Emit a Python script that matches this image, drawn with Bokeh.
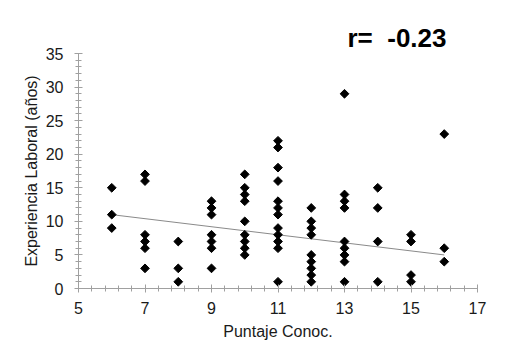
import numpy as np
from bokeh.plotting import figure
from bokeh.models import Range1d, FixedTicker
from bokeh.embed import file_html
from bokeh.resources import INLINE

# Data
puntaje_6 = [15, 11, 9]
puntaje_7 = [17, 16, 8, 7, 6, 3]
puntaje_8 = [7, 3, 1]
puntaje_9 = [13, 12, 11, 8, 7, 6, 3]
puntaje_10 = [17, 15, 14, 13, 10, 8, 7, 6, 5]
puntaje_11 = [22, 21, 18, 16, 13, 12, 11, 9, 8, 7, 6, 1]
puntaje_12 = [12, 10, 9, 8, 5, 4, 3, 2, 1]
puntaje_13 = [29, 14, 13, 12, 7, 6, 5, 4, 1]
puntaje_14 = [15, 12, 7, 1]
puntaje_15 = [8, 7, 2, 1]
puntaje_16 = [23, 6, 4]

groups = {6: puntaje_6, 7: puntaje_7, 8: puntaje_8, 9: puntaje_9, 10: puntaje_10,
          11: puntaje_11, 12: puntaje_12, 13: puntaje_13, 14: puntaje_14,
          15: puntaje_15, 16: puntaje_16}

# Trend line as drawn in the reference
trend_x = [6, 16]
trend_y = [11.0, 5.0]

x_ticks = [5, 7, 9, 11, 13, 15, 17]
y_ticks = [0, 5, 10, 15, 20, 25, 30, 35]
r_text = "r=\u00a0\u00a0-0.23"

xs, ys = [], []
for k, vals in groups.items():
    xs += [k] * len(vals)
    ys += vals

p = figure(width=489, height=346, output_backend="svg", toolbar_location=None,
           x_range=Range1d(5, 17), y_range=Range1d(0, 35),
           min_border_left=78, min_border_right=12, min_border_top=53, min_border_bottom=58)
p.outline_line_color = None
p.grid.visible = False
p.background_fill_color = "white"
p.border_fill_color = "white"

p.line(trend_x, trend_y, line_color="#8a8a8a", line_width=1)
p.scatter(xs, ys, marker="square", angle=np.pi / 4, size=6.2,
          fill_color="black", line_color="black")

axis_color = "#a0a0a0"
for ax in (p.xaxis[0], p.yaxis[0]):
    ax.axis_line_color = axis_color
    ax.major_tick_line_color = axis_color
    ax.minor_tick_line_color = axis_color
    ax.major_tick_in = 4
    ax.major_tick_out = 4
    ax.minor_tick_in = 3
    ax.minor_tick_out = 3
    ax.major_label_text_font = "Liberation Sans"
    ax.major_label_text_font_size = "16px"
    ax.major_label_text_color = "#1a1a1a"
    ax.axis_label_text_font = "Liberation Sans"
    ax.axis_label_text_font_size = "16px"
    ax.axis_label_text_font_style = "normal"
    ax.axis_label_text_color = "#1a1a1a"

p.xaxis.ticker = FixedTicker(ticks=x_ticks, minor_ticks=list(np.round(np.arange(5, 17.01, 0.4), 2)))
p.yaxis.ticker = FixedTicker(ticks=y_ticks, minor_ticks=list(range(0, 36)))
p.xaxis.axis_label = "Puntaje Conoc."
p.yaxis.axis_label = "Experiencia Laboral (años)"
p.xaxis.major_label_standoff = 9
p.yaxis.major_label_standoff = 11
p.xaxis.axis_label_standoff = 6
p.yaxis.axis_label_standoff = 3

p.title.text = r_text
p.title.align = "right"
p.title.offset = 31
p.title.standoff = 1
p.title.text_font = "Liberation Sans"
p.title.text_font_size = "26px"
p.title.text_font_style = "bold"
p.title.text_color = "black"

open("out.html", "w").write(file_html(p, INLINE))
